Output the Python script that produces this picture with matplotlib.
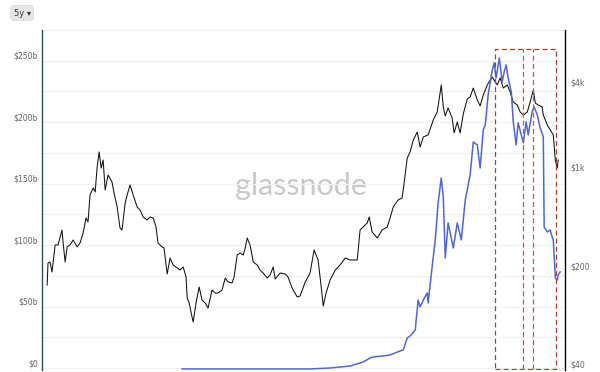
import pandas as pd
import numpy as np
import matplotlib
matplotlib.use("Agg")
import matplotlib.pyplot as plt
from matplotlib import ticker
from matplotlib.patches import Rectangle
import matplotlib.dates as mdates
import matplotlib.transforms as mtransforms

# ---- data ----
start = pd.Timestamp("2017-07-01")

# market cap, $b (left axis)
black_days = [18, 21, 28, 35, 39, 46, 56, 70, 74, 81,
              88, 98, 109, 123, 133, 144, 154, 161, 168, 179,
              186, 193, 200, 207, 214, 221, 231, 245, 252, 263,
              273, 280, 291, 298, 308, 319, 333, 343, 354, 368,
              378, 389, 399, 406, 420, 427, 438, 448, 459, 473,
              483, 494, 504, 508, 515, 525, 529, 539, 550, 560,
              571, 581, 595, 606, 616, 630, 641, 651, 665, 672,
              683, 693, 704, 711, 718, 728, 739, 753, 763, 774,
              788, 798, 809, 816, 833, 851, 861, 875, 893, 903,
              921, 938, 952, 966, 977, 984, 994, 1008, 1026, 1043,
              1061, 1078, 1103, 1113, 1124, 1138, 1145, 1155, 1173, 1190,
              1208, 1218, 1229, 1246, 1260, 1267, 1278, 1288, 1299, 1313,
              1323, 1334, 1351, 1369, 1383, 1397, 1404, 1411, 1421, 1435,
              1442, 1453, 1463, 1474, 1488, 1498, 1509, 1523, 1533, 1544,
              1558, 1575, 1586, 1593, 1603, 1614, 1628, 1638, 1649, 1663,
              1673, 1684, 1698, 1708, 1719, 1726, 1736, 1750, 1754, 1768,
              1778, 1789, 1796, 1803, 1806]
black_cap = [67.5, 85.4, 86.3, 78.1, 86.3, 100.1, 100.1, 112.3, 101.7, 86.3,
             98.5, 100.1, 104.2, 98.5, 101.7, 109.8, 122.1, 118.8, 140.8, 146.5,
             143.2, 163.6, 175.8, 162.7, 169.2, 144.8, 157.0, 151.3, 142.4, 131.0,
             113.9, 112.3, 134.3, 140.8, 148.9, 140.8, 131.0, 128.6, 122.9, 120.4,
             122.9, 122.1, 114.7, 101.7, 98.5, 97.6, 76.5, 89.5, 83.8, 81.4,
             79.7, 82.2, 74.0, 57.0, 52.9, 41.5, 37.4, 52.9, 65.9, 55.3,
             52.9, 48.8, 63.5, 61.0, 61.0, 63.5, 73.2, 70.0, 69.2, 74.0,
             91.9, 93.6, 91.9, 97.6, 105.8, 100.1, 86.3, 83.8, 79.7, 77.3,
             73.2, 75.7, 82.2, 72.4, 77.3, 76.5, 74.0, 65.1, 57.8, 58.6,
             70.0, 77.3, 96.0, 87.9, 65.9, 50.4, 61.0, 71.6, 79.7, 83.8,
             89.5, 87.9, 87.9, 112.3, 114.7, 118.0, 122.9, 110.7, 105.8, 112.3,
             114.7, 122.1, 131.0, 136.7, 138.3, 150.5, 170.9, 175.8, 185.5, 192.0,
             179.8, 188.0, 189.6, 201.8, 208.3, 230.3, 212.4, 205.1, 211.6, 203.4,
             191.2, 200.2, 191.2, 206.7, 218.9, 220.5, 227.8, 218.1, 213.2, 222.1,
             230.3, 236.8, 232.7, 230.3, 236.0, 227.8, 230.3, 224.6, 216.4, 214.0,
             208.3, 205.9, 208.3, 216.4, 226.2, 215.6, 214.0, 212.4, 205.9, 197.7,
             193.7, 189.6, 169.2, 162.7, 169.2]

# price, $ (right axis, log)
blue_days = [490, 728, 938, 1008, 1078, 1124, 1148, 1159, 1194, 1218,
             1253, 1264, 1278, 1288, 1306, 1316, 1323, 1334, 1348, 1351,
             1365, 1376, 1386, 1397, 1404, 1411, 1421, 1439, 1453, 1467,
             1481, 1498, 1509, 1523, 1533, 1544, 1551, 1561, 1575, 1582,
             1589, 1600, 1610, 1617, 1624, 1631, 1642, 1649, 1659, 1666,
             1677, 1684, 1694, 1701, 1715, 1722, 1733, 1743, 1754, 1757,
             1768, 1778, 1785, 1789, 1796, 1803, 1806, 1813]
blue_price = [40.7, 40.7, 40.7, 41.3, 42.7, 45.6, 48.7, 49.5, 50.3, 51.1,
              54.6, 55.5, 67.5, 69.7, 76.9, 125.4, 111.9, 125.4, 140.7, 119.5,
              215.1, 334.3, 611.6, 920, 674.5, 249.0, 441.6, 293.3, 441.6, 334.3,
              642.2, 966, 1656, 1576, 1083, 2015, 2187, 3568, 5279, 6018,
              4709, 6530, 4412, 5193, 5825, 4709, 3747, 2297, 1576, 2260,
              1857, 1629, 2297, 1857, 2703, 2932, 2574, 2081, 1797, 413.1,
              380.9, 393.5, 350.9, 334.3, 179.7, 173.9, 188.7, 198.2]

left_ticks = [0, 50, 100, 150, 200, 250]
left_labels = ["$0", "$50b", "$100b", "$150b", "$200b", "$250b"]
right_ticks = [40, 200, 1000, 4000]
right_labels = ["$40", "$200", "$1k", "$4k"]

# highlighted windows (days from start)
box_from, box_to = 1586, 1799
box_splits = [1684, 1719]

# ---- plot ----
bx = start + pd.to_timedelta(black_days, unit="D")
ux = start + pd.to_timedelta(blue_days, unit="D")

fig = plt.figure(figsize=(6, 3.72), dpi=100)
ax1 = fig.add_axes([0.07, 0.0054, 0.8717, 0.914])
ax2 = ax1.twinx()

ax1.plot(bx, black_cap, color="#111111", lw=0.75)
ax2.plot(ux, blue_price, color="#4f68d0", lw=1.1)

ax1.set_xlim(start, start + pd.Timedelta(days=1830))
ax1.set_ylim(-1.6, 275)
ax2.set_yscale("log")
ax2.set_ylim(40, 10300)

ax1.set_yticks(left_ticks)
ax1.set_yticklabels(left_labels)
ax1.yaxis.set_minor_locator(ticker.MultipleLocator(25))
ax1.grid(True, which="both", axis="y", color="#f0f0f0", lw=0.8)
ax1.set_axisbelow(True)
ax2.yaxis.set_minor_locator(ticker.NullLocator())
ax2.set_yticks(right_ticks)
ax2.set_yticklabels(right_labels)

ax1.tick_params(axis="y", which="both", length=0, labelsize=5.6, labelcolor="#666666", pad=3)
ax2.tick_params(axis="y", which="both", length=0, labelsize=5.6, labelcolor="#666666", pad=4)
ax1.tick_params(axis="x", which="both", length=0, labelbottom=False)
plt.setp(ax1.get_yticklabels(), va="bottom")
plt.setp(ax2.get_yticklabels(), va="bottom")

for s in ["top", "bottom"]:
    ax1.spines[s].set_visible(False)
    ax2.spines[s].set_visible(False)
ax2.spines["left"].set_visible(False)
ax1.spines["right"].set_visible(False)
ax1.spines["left"].set_color("#2f4d57")
ax1.spines["left"].set_linewidth(1.0)
ax2.spines["right"].set_color("black")
ax2.spines["right"].set_linewidth(1.0)

# watermark
ax1.text(0.495, 0.54, "glassnode", transform=ax1.transAxes, ha="center", va="center",
         fontsize=22, color="#c9c9c9", family="Lato", zorder=0)

# dashed highlight boxes
trans = mtransforms.blended_transform_factory(ax2.transData, ax2.transAxes)
x0 = mdates.date2num(start + pd.Timedelta(days=box_from))
x1 = mdates.date2num(start + pd.Timedelta(days=box_to))
ax2.add_patch(Rectangle((x0, 0.003), x1 - x0, 0.941, transform=trans, fill=False,
                        ec="#a8402e", ls=(0, (4, 2.5)), lw=0.9, zorder=5))
for d in box_splits:
    xs = mdates.date2num(start + pd.Timedelta(days=d))
    ax2.plot([xs, xs], [0.003, 0.944], transform=trans, color="#d9532f",
             ls=(0, (4, 2.5)), lw=0.9, zorder=5)

# range button
fig.text(0.037, 0.965, "5y \u25be", ha="center", va="center", fontsize=6, color="#333333",
         bbox=dict(boxstyle="round,pad=0.35", fc="#e6e6e6", ec="#d8d8d8", lw=0.5))

fig.savefig("out.png", dpi=100)
